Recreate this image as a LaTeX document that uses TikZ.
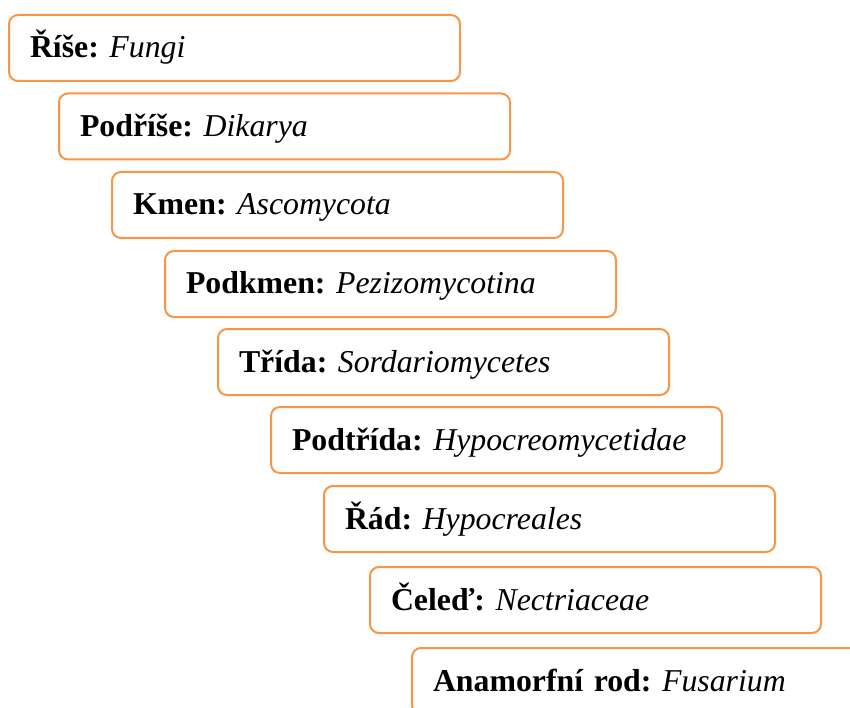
\documentclass[tikz,border=0pt]{standalone}
\usepackage{fontspec}
\setmainfont{Liberation Serif}[
  UprightFont={Liberation Serif},
  BoldFont={Liberation Serif Bold},
  ItalicFont={Liberation Serif Italic},
  BoldItalicFont={Liberation Serif Bold Italic}]
\frenchspacing
\definecolor{boxorange}{HTML}{F79646}
\tikzset{
  taxbox/.style={draw=boxorange, line width=2pt, rounded corners=9pt, fill=white,
    anchor=north west, minimum height=66pt, text width=409pt, inner xsep=21pt,
    inner ysep=0pt, align=left, text height=26pt, text depth=6pt,
    font=\fontsize{31.8pt}{36pt}\selectfont\frenchspacing}
}
\begin{document}
\begin{tikzpicture}[x=1pt,y=-1pt]
\useasboundingbox (0,0) rectangle (850,708);
\clip (0,0) rectangle (850,708);
\node[taxbox] (b1) at (8,14) {\textbf{Říše:} \textit{Fungi}};
\node[taxbox] (b2) at (58,92.5) {\textbf{Podříše:} \textit{Dikarya}};
\node[taxbox] (b3) at (111,171) {\textbf{Kmen:} \textit{Ascomycota}};
\node[taxbox] (b4) at (164,250) {\textbf{Podkmen:} \textit{Pezizomycotina}};
\node[taxbox] (b5) at (217,328) {\textbf{Třída:} \textit{Sordariomycetes}};
\node[taxbox] (b6) at (270,406) {\textbf{Podtřída:} \textit{Hypocreomycetidae}};
\node[taxbox] (b7) at (323,485) {\textbf{Řád:} \textit{Hypocreales}};
\node[taxbox] (b8) at (369,566) {\textbf{Čeleď:} \textit{Nectriaceae}};
\node[taxbox] (b9) at (411,647) {\textbf{Anamorfní rod:} \textit{Fusarium}};
\end{tikzpicture}
\end{document}
